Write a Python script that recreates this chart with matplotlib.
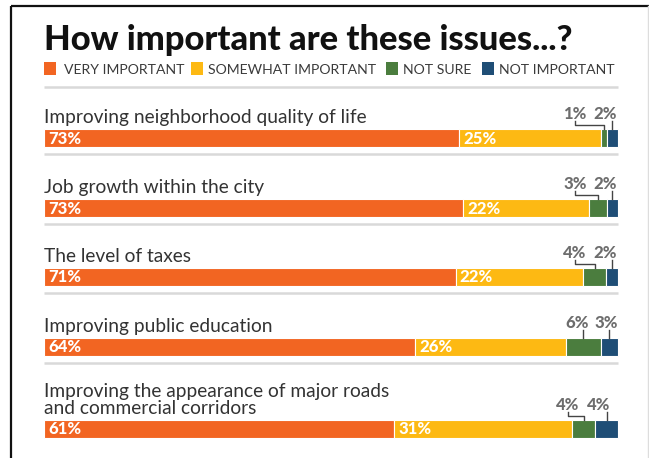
import matplotlib.pyplot as plt

issues = [
    "Improving neighborhood quality of life",
    "Job growth within the city",
    "The level of taxes",
    "Improving public education",
    "Improving the appearance of major roads\nand commercial corridors",
]
very_important = [73, 73, 71, 64, 61]
somewhat_important = [25, 22, 22, 26, 31]
not_sure = [1, 3, 4, 6, 4]
not_important = [2, 2, 2, 3, 4]

series = ["VERY IMPORTANT", "SOMEWHAT IMPORTANT", "NOT SURE", "NOT IMPORTANT"]
colors = ["#F26522", "#FDB913", "#4B7D3E", "#1F4E76"]

# layout in pixel rows (figure is 649 x 458 at 100 dpi)
W, H = 649, 458
bar_x0, bar_x1 = 44, 618
row_y = [138, 208, 277, 347, 429]
bar_h = 18.5
sep_y = [87, 154, 224, 293, 363]
# callout label centres (pixels) for the two small segments
left_lab_x = [575, 575, 575, 577, 568]
right_lab_x = [605, 605, 605, 606, 599]
# legend swatch / text starts (pixels)
leg_sq_x = [44, 191, 386, 482]
leg_txt_x = [64, 208, 403, 499]

fig = plt.figure(figsize=(W / 100, H / 100), dpi=100)
ax = fig.add_axes([0, 0, 1, 1])
scale = (bar_x1 - bar_x0) / 100.0
ax.set_xlim(-bar_x0 / scale, (W - bar_x0) / scale)
ax.set_ylim(H, 0)
ax.axis("off")


def px(x):
    return (x - bar_x0) / scale


font = "Lato"

# frame
ax.plot([px(11), px(W)], [6, 6], color="#111111", lw=1.6, solid_capstyle="butt")
ax.plot([px(11), px(11)], [6, H], color="#111111", lw=1.6, solid_capstyle="butt")
ax.plot([px(648), px(648)], [6, H], color="#dddddd", lw=1)

ax.text(0, 50, "How important are these issues...?", fontsize=24.8, fontweight="black",
        family=font, color="#111111", va="baseline", ha="left")

# legend
for sx, tx, lab, c in zip(leg_sq_x, leg_txt_x, series, colors):
    ax.add_patch(plt.Rectangle((px(sx), 62), 12 / scale, 13, color=c, lw=0))
    ax.text(px(tx), 74, lab, fontsize=10.1, family=font,
            color="#3a3a3a", va="baseline", ha="left")

for y in sep_y:
    ax.plot([0, 100], [y, y], color="#d9d9d9", lw=1.8, solid_capstyle="butt")

for i, name in enumerate(issues):
    vals = [very_important[i], somewhat_important[i], not_sure[i], not_important[i]]
    total = sum(vals)
    shares = [v / total * 100 for v in vals]
    y = row_y[i]
    top = y - bar_h / 2
    left = 0
    edges = []
    for j, (s, c) in enumerate(zip(shares, colors)):
        ax.barh(y, s, left=left, height=bar_h, color=c, edgecolor="white", lw=0.8)
        edges.append((left, left + s))
        if j < 2:
            ax.text(left + 0.7, y + 0.5, f"{vals[j]}%", color="white", fontsize=12,
                    fontweight="black", family=font, va="center", ha="left")
        left += s

    ax.text(0, top - 6, name, fontsize=13.8, family=font, color="#333333",
            va="baseline", ha="left", linespacing=0.95)

    # callouts for the two thin segments
    for j, lx in ((2, left_lab_x[i]), (3, right_lab_x[i])):
        ax.text(px(lx), top - 10, f"{vals[j]}%", fontsize=12, fontweight="black",
                family=font, color="#6d6d6d", va="baseline", ha="center")
        seg_c = (edges[j][0] + edges[j][1]) / 2
        if abs((seg_c - px(lx)) * scale) <= 12:
            ax.plot([seg_c, seg_c], [top - 8, top], color="#444444", lw=1)
        else:
            ax.plot([px(lx), px(lx), seg_c, seg_c], [top - 8, top - 4, top - 4, top],
                    color="#444444", lw=1)

fig.savefig("out.png", dpi=100)
